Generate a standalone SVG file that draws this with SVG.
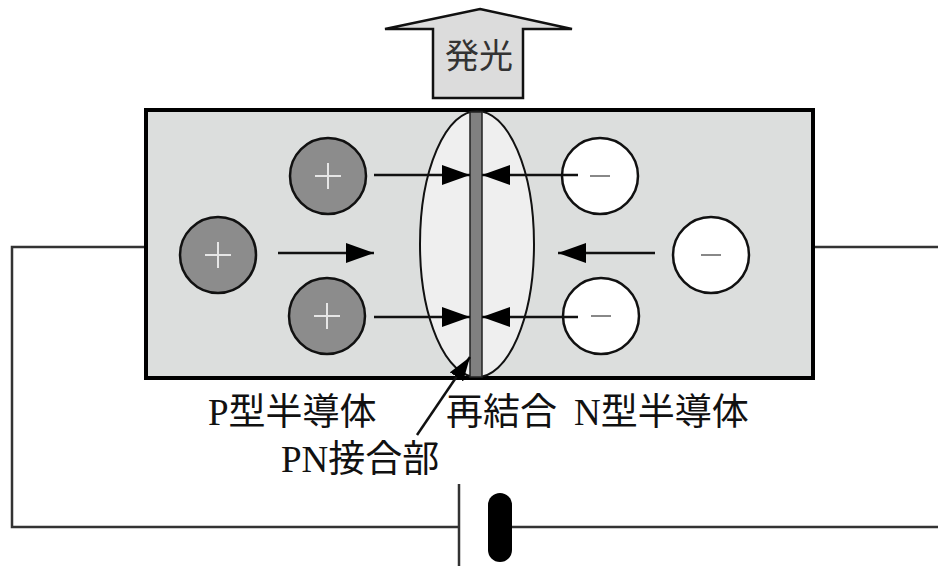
<svg xmlns="http://www.w3.org/2000/svg" width="938" height="566" viewBox="0 0 938 566">
<defs>
<marker id="ah" viewBox="0 0 28 20" refX="28" refY="10" markerWidth="28" markerHeight="20" markerUnits="userSpaceOnUse" orient="auto">
<path d="M0,0 L28,10 L0,20 Z" fill="#000"/>
</marker>
<marker id="ahs" viewBox="0 0 24 16" refX="24" refY="8" markerWidth="24" markerHeight="16" markerUnits="userSpaceOnUse" orient="auto">
<path d="M0,0 L24,8 L0,16 Z" fill="#000"/>
</marker>
</defs>
<style>
.wire{fill:none;stroke:#333;stroke-width:2.5}
.hole{fill:#8c8c8c;stroke:#111;stroke-width:2.5}
.elec{fill:#fff;stroke:#111;stroke-width:2.5}
.plus{stroke:#e6e6e6;stroke-width:2}
.minus{stroke:#888;stroke-width:2}
.arr{stroke:#111;stroke-width:2.5;fill:none}
.lbl{font-family:"Liberation Serif","Noto Sans CJK JP",serif;font-size:37px;fill:#111}
</style>
<rect width="938" height="566" fill="#fff"/>
<g id="circuit">
<polyline class="wire" points="146,247 12,247 12,527 459,527"/>
<polyline class="wire" points="813,247 938,247"/>
<line class="wire" x1="500" y1="527" x2="938" y2="527"/>
<line x1="459" y1="484" x2="459" y2="566" stroke="#333" stroke-width="2.5"/>
<rect id="battery" x="488" y="493" width="24" height="69" rx="12" fill="#000"/>
</g>
<g id="light">
<polygon points="480,9 572,29 523,29 523,98 433,98 433,29 385,29" fill="#dcdcdc" stroke="#111" stroke-width="2.5"/>
<text x="479" y="68" text-anchor="middle" font-family="'Noto Sans CJK JP',sans-serif" font-size="34" fill="#333">発光</text>
</g>
<g id="semiconductor">
<rect x="146" y="110" width="667" height="268" fill="#dcdedd" stroke="#000" stroke-width="4"/>
<ellipse id="recomb" cx="477" cy="244" rx="57" ry="133" fill="#efefef" stroke="#111" stroke-width="2"/>
<rect id="junction" x="470" y="112" width="12" height="265" fill="#808080" stroke="#222" stroke-width="1.5"/>
</g>
<g id="holes">
<g id="hole1"><circle class="hole" cx="218" cy="255" r="38"/><path class="plus" d="M205,255h26M218,242v26"/></g>
<g id="hole2"><circle class="hole" cx="328" cy="176" r="38"/><path class="plus" d="M315,176h26M328,163v26"/></g>
<g id="hole3"><circle class="hole" cx="327" cy="316" r="38"/><path class="plus" d="M314,316h26M327,303v26"/></g>
</g>
<g id="electrons">
<g id="elec1"><circle class="elec" cx="600" cy="176" r="38"/><path class="minus" d="M590,176h20"/></g>
<g id="elec2"><circle class="elec" cx="601" cy="316" r="38"/><path class="minus" d="M591,316h20"/></g>
<g id="elec3"><circle class="elec" cx="711" cy="255" r="38"/><path class="minus" d="M701,255h20"/></g>
</g>
<g id="connectors">
<line class="arr" x1="278" y1="253" x2="374" y2="253" stroke-width="3" marker-end="url(#ah)"/>
<line class="arr" x1="655" y1="253" x2="558" y2="253" stroke-width="3" marker-end="url(#ah)"/>
<line class="arr" x1="374" y1="175" x2="470" y2="175" marker-end="url(#ah)"/>
<line class="arr" x1="374" y1="317" x2="470" y2="317" marker-end="url(#ah)"/>
<line class="arr" x1="578" y1="175" x2="482" y2="175" marker-end="url(#ah)"/>
<line class="arr" x1="578" y1="317" x2="482" y2="317" marker-end="url(#ah)"/>
<line class="arr" x1="417" y1="435" x2="470" y2="357" marker-end="url(#ahs)"/>
</g>
<g id="labels">
<text class="lbl" x="208" y="425">P型半導体</text>
<text class="lbl" x="446" y="425">再結合</text>
<text class="lbl" x="574" y="425">N型半導体</text>
<text class="lbl" x="281" y="472">PN接合部</text>
</g>
</svg>
